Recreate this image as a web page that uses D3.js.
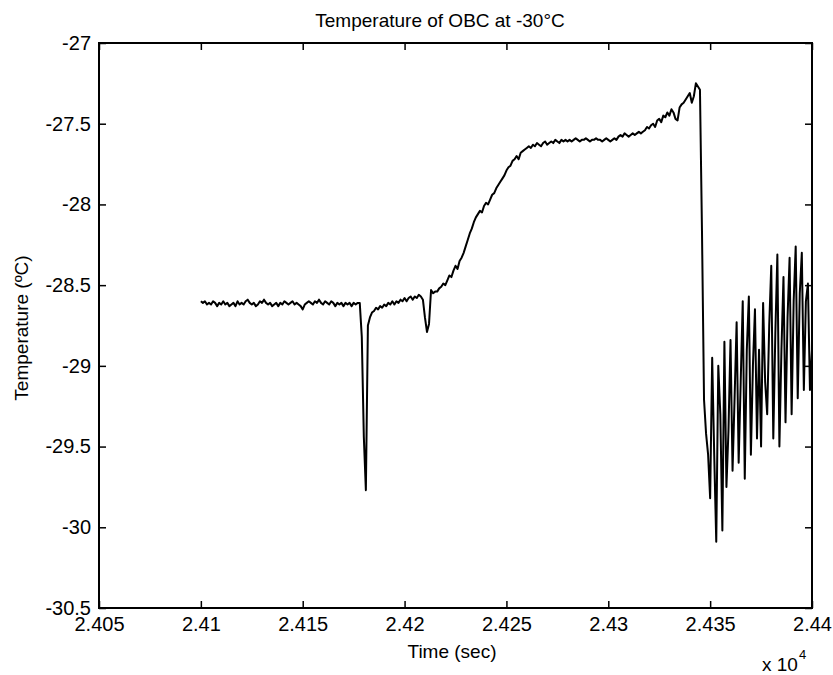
<!DOCTYPE html>
<html>
<head>
<meta charset="utf-8">
<script src="https://cdnjs.cloudflare.com/ajax/libs/d3/7.8.5/d3.min.js"></script>
<style>
	body { margin: 0; background: #fff; }
	text { font-family: "Liberation Sans", Arial, sans-serif; fill: #000; }
</style>
</head>
<body>
<svg id="MainView" width="833" height="675"></svg>
<script>
// sampling grid of the logger (sec) and the temperature (degC)
var startTime = 24100,
	sampleStep = 1;

var temps = [
	// flat part 24100 - 24178
	-28.60,-28.61,-28.60,-28.62,-28.61,-28.62,-28.60,-28.61,-28.63,-28.61,
	-28.62,-28.60,-28.62,-28.61,-28.63,-28.62,-28.61,-28.63,-28.60,-28.62,
	-28.61,-28.62,-28.60,-28.59,-28.61,-28.62,-28.61,-28.63,-28.62,-28.60,
	-28.61,-28.59,-28.61,-28.62,-28.61,-28.63,-28.62,-28.61,-28.63,-28.61,
	-28.62,-28.60,-28.61,-28.62,-28.61,-28.60,-28.62,-28.61,-28.62,-28.63,
	-28.65,-28.62,-28.61,-28.60,-28.61,-28.62,-28.60,-28.61,-28.59,-28.61,
	-28.62,-28.60,-28.61,-28.62,-28.60,-28.61,-28.63,-28.61,-28.62,-28.61,
	-28.63,-28.61,-28.62,-28.61,-28.63,-28.61,-28.62,-28.61,-28.61,
	// first dip 24179 - 24187
	-28.82,-29.44,-29.77,-28.75,-28.70,-28.67,-28.66,-28.64,-28.65,
	// 24188 - 24215
	-28.63,-28.64,-28.62,-28.63,-28.61,-28.62,-28.60,-28.62,-28.60,-28.61,
	-28.59,-28.60,-28.58,-28.60,-28.58,-28.57,-28.59,-28.57,-28.58,-28.56,
	-28.57,-28.59,-28.70,-28.79,-28.74,-28.53,-28.55,-28.54,
	// warming 24216 - 24260
	-28.54,-28.52,-28.51,-28.49,-28.50,-28.47,-28.44,
	-28.45,-28.41,-28.38,-28.40,-28.35,-28.33,-28.30,-28.26,
	-28.22,-28.18,-28.15,-28.11,-28.08,
	-28.06,-28.04,-28.05,-28.01,-27.99,-28.00,-27.97,
	-27.94,-27.93,-27.90,-27.88,-27.86,-27.84,-27.82,-27.79,
	-27.77,-27.76,-27.73,-27.72,-27.70,-27.72,-27.68,-27.67,-27.66,-27.65,
	// plateau 24261 - 24345
	-27.64,-27.65,-27.63,-27.64,-27.62,-27.63,-27.64,-27.62,-27.61,-27.63,
	-27.62,-27.61,-27.62,-27.60,-27.61,-27.62,-27.60,-27.61,-27.60,-27.61,
	-27.60,-27.61,-27.60,-27.59,-27.60,-27.61,-27.60,-27.60,-27.59,-27.60,
	-27.61,-27.60,-27.60,-27.59,-27.60,-27.60,-27.61,-27.60,-27.59,-27.60,
	-27.61,-27.60,-27.59,-27.60,-27.58,-27.57,-27.58,-27.56,-27.57,-27.58,
	-27.57,-27.56,-27.57,-27.56,-27.55,-27.56,-27.55,-27.54,-27.52,-27.53,
	-27.51,-27.50,-27.52,-27.48,-27.47,-27.49,-27.45,-27.46,-27.43,-27.45,
	-27.41,-27.43,-27.47,-27.48,-27.40,-27.38,-27.37,-27.35,-27.33,-27.31,
	-27.37,-27.33,-27.25,-27.27,-27.29,
	// drop and oscillation 24346 - 24400
	-28.17,-29.21,-29.42,-29.55,-29.82,
	-28.95,-29.55,-30.09,-29.00,-29.30,-30.02,-28.85,-29.75,-29.40,-28.84,
	-29.65,-29.20,-28.73,-29.60,-29.10,-28.60,-29.70,-28.90,-28.57,-29.55,
	-29.00,-28.65,-29.45,-28.90,-29.50,-28.61,-29.10,-29.30,-28.75,-28.38,
	-29.45,-28.80,-28.31,-29.50,-28.90,-28.45,-29.35,-28.70,-28.33,-29.30,
	-28.60,-28.26,-29.20,-28.55,-28.30,-29.15,-28.60,-28.49,-29.15,-28.90
];

var xTicks = [24050,24100,24150,24200,24250,24300,24350,24400];
var xTickLabels = ["2.405","2.41","2.415","2.42","2.425","2.43","2.435","2.44"];
var yTicks = [-30.5,-30,-29.5,-29,-28.5,-28,-27.5,-27];
var yTickLabels = ["-30.5","-30","-29.5","-29","-28.5","-28","-27.5","-27"];

var width = 833,
	height = 675;
	plot_left = 99;
	plot_right = 812;
	plot_top = 43;
	plot_bottom = 608;
	tick_len = 7;

var svg = d3.select("#MainView");

var x = d3.scaleLinear().domain([24050, 24400]).range([plot_left, plot_right]);
var y = d3.scaleLinear().domain([-30.5, -27]).range([plot_bottom, plot_top]);

var data = temps.map(function(v, i){ return {t: startTime + i*sampleStep, v: v}; });

// 曲线
var line = d3.line()
	.x(function(d){ return x(d.t); })
	.y(function(d){ return y(d.v); });

svg.append("path")
	.datum(data)
	.attr("d", line)
	.attr("fill", "none")
	.attr("stroke", "#000")
	.attr("stroke-width", 2)
	.attr("stroke-linejoin", "round");

// axes, ticks pointing inside like matlab
var xAxis = svg.append("g")
	.attr("transform", "translate(0," + plot_bottom + ")")
	.call(d3.axisBottom(x).tickValues(xTicks)
		.tickFormat(function(d, i){ return xTickLabels[i]; })
		.tickSizeInner(-tick_len).tickSizeOuter(0).tickPadding(9));

var xAxisTop = svg.append("g")
	.attr("transform", "translate(0," + plot_top + ")")
	.call(d3.axisTop(x).tickValues(xTicks).tickFormat("")
		.tickSizeInner(-tick_len).tickSizeOuter(0));

var yAxis = svg.append("g")
	.attr("transform", "translate(" + plot_left + ",0)")
	.call(d3.axisLeft(y).tickValues(yTicks)
		.tickFormat(function(d, i){ return yTickLabels[i]; })
		.tickSizeInner(-tick_len).tickSizeOuter(0).tickPadding(8));

var yAxisRight = svg.append("g")
	.attr("transform", "translate(" + plot_right + ",0)")
	.call(d3.axisRight(y).tickValues(yTicks).tickFormat("")
		.tickSizeInner(-tick_len).tickSizeOuter(0));

svg.selectAll(".domain").remove();
svg.selectAll(".tick line").attr("stroke", "#000").attr("stroke-width", 1.5);
svg.selectAll(".tick text")
	.attr("font-size", "20px")
	.attr("font-family", "Liberation Sans, Arial, sans-serif")
	.attr("fill", "#000");

// box
svg.append("rect")
	.attr("x", plot_left)
	.attr("y", plot_top)
	.attr("width", plot_right - plot_left)
	.attr("height", plot_bottom - plot_top)
	.attr("fill", "none")
	.attr("stroke", "#000")
	.attr("stroke-width", 2);

// 标题和坐标轴标签
svg.append("text")
	.attr("x", 440)
	.attr("y", 27)
	.attr("text-anchor", "middle")
	.attr("font-size", "19px")
	.text("Temperature of OBC at -30°C");

svg.append("text")
	.attr("x", 452)
	.attr("y", 658)
	.attr("text-anchor", "middle")
	.attr("font-size", "19px")
	.text("Time (sec)");

svg.append("text")
	.attr("transform", "translate(28,328) rotate(-90)")
	.attr("text-anchor", "middle")
	.attr("font-size", "19px")
	.text("Temperature (ºC)");

var expo = svg.append("text")
	.attr("x", 762)
	.attr("y", 671)
	.attr("font-size", "19px");
expo.append("tspan").text("x 10");
expo.append("tspan").attr("dy", -12).attr("dx", 1).attr("font-size", "13px").text("4");
</script>
</body>
</html>
